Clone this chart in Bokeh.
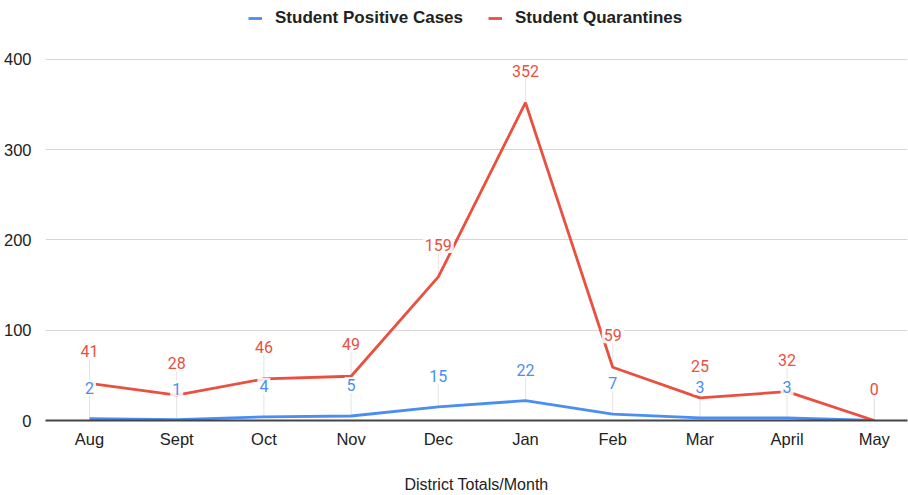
from bokeh.plotting import figure
from bokeh.models import Legend, LegendItem, Range1d, FixedTicker
from bokeh.core.properties import value
from bokeh.embed import file_html
from bokeh.resources import INLINE

months = ["Aug", "Sept", "Oct", "Nov", "Dec", "Jan", "Feb", "Mar", "April", "May"]
positive_cases = [2, 1, 4, 5, 15, 22, 7, 3, 3, 0]
quarantines = [41, 28, 46, 49, 159, 352, 59, 25, 32, 0]
y_ticks = [0, 100, 200, 300, 400]

xs = list(range(len(months)))

BLUE = "#4a8ef2"
RED = "#e9503f"
AXFONT = "Liberation Sans"
LBLFONT = "Roboto"

# frame spans from 2px to 421px; the 0..400 scale must occupy 362px (59..421)
FRAME_TOP, FRAME_BOTTOM, TOP400 = 2, 421, 59
y_end = 400 * (FRAME_BOTTOM - FRAME_TOP) / (FRAME_BOTTOM - TOP400)
# category spacing ~87.2px, first category ~44px right of the frame's left edge
FRAME_LEFT, FRAME_RIGHT, STEP = 45, 907, 87.2
x_start = -44 / STEP
x_end = x_start + (FRAME_RIGHT - FRAME_LEFT) / STEP

p = figure(
    x_range=Range1d(x_start, x_end),
    y_range=Range1d(0, y_end),
    width=908, height=495,
    output_backend="svg", toolbar_location=None,
    min_border_left=FRAME_LEFT, min_border_right=908 - FRAME_RIGHT,
    min_border_top=FRAME_TOP, min_border_bottom=495 - FRAME_BOTTOM,
)
p.outline_line_color = None
p.background_fill_color = "white"
p.border_fill_color = "white"

# leader lines
p.ray(x=xs, y=quarantines, length=24, length_units="screen", angle=90,
      angle_units="deg", line_color="#e4e4e4", line_width=1)
p.ray(x=xs, y=positive_cases, length=24, length_units="screen", angle=90,
      angle_units="deg", line_color="#e4e4e4", line_width=1)

r_blue = p.line(xs, positive_cases, line_color=BLUE, line_width=2.8)
r_red = p.line(xs, quarantines, line_color=RED, line_width=2.8)

p.text(x=xs, y=positive_cases, text=[str(v) for v in positive_cases], y_offset=-31,
       text_align="center", text_baseline="middle", text_font=value(LBLFONT),
       text_font_size="16px", text_color=BLUE,
       background_fill_color="white", background_fill_alpha=0.85, padding=2)
p.text(x=xs, y=quarantines, text=[str(v) for v in quarantines], y_offset=-32,
       text_align="center", text_baseline="middle", text_font=value(LBLFONT),
       text_font_size="16px", text_color=RED,
       background_fill_color="white", background_fill_alpha=0.85, padding=2)

p.xgrid.grid_line_color = None
p.ygrid.grid_line_color = "#d6d6d6"
p.ygrid.grid_line_width = 1
p.yaxis.ticker = FixedTicker(ticks=y_ticks)
p.xaxis.ticker = FixedTicker(ticks=xs)
p.xaxis.major_label_overrides = {i: m for i, m in zip(xs, months)}

p.yaxis.axis_line_color = None
p.yaxis.major_tick_line_color = None
p.yaxis.minor_tick_line_color = None
p.yaxis.major_label_standoff = 8
p.yaxis.major_label_text_font = AXFONT
p.yaxis.major_label_text_font_size = "16.5px"
p.yaxis.major_label_text_color = "#222222"

p.xaxis.axis_line_color = "#444444"
p.xaxis.axis_line_width = 2
p.xaxis.major_tick_line_color = None
p.xaxis.minor_tick_line_color = None
p.xaxis.major_label_standoff = 3
p.xaxis.major_label_text_font = AXFONT
p.xaxis.major_label_text_font_size = "16.5px"
p.xaxis.major_label_text_color = "#222222"
p.xaxis.axis_label = "District Totals/Month"
p.xaxis.axis_label_text_font = AXFONT
p.xaxis.axis_label_text_font_size = "16px"
p.xaxis.axis_label_text_font_style = "normal"
p.xaxis.axis_label_text_color = "#222222"
p.xaxis.axis_label_standoff = 25

legend = Legend(
    items=[LegendItem(label="Student Positive Cases", renderers=[r_blue]),
           LegendItem(label="Student Quarantines", renderers=[r_red])],
    orientation="horizontal", location=(203, 392),
    label_text_font=AXFONT, label_text_font_size="17px", label_text_font_style="bold",
    label_text_color="#222222", glyph_width=14, glyph_height=20, label_standoff=13,
    spacing=25, padding=0, margin=0, border_line_color=None,
    background_fill_alpha=0, label_height=20,
)
p.add_layout(legend, "center")

open("out.html", "w").write(file_html(p, INLINE))
